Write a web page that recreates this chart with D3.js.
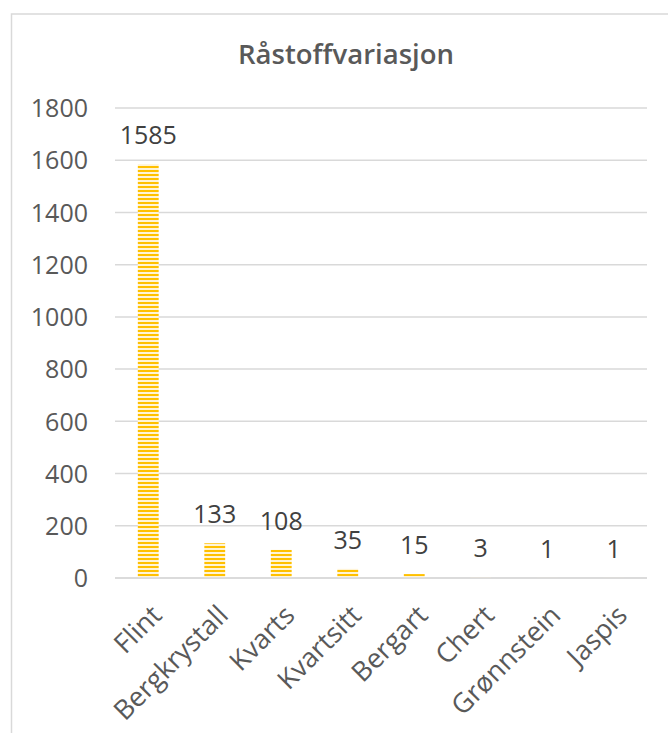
<!DOCTYPE html>
<html>
<head>
<meta charset="utf-8">
<script src="https://cdn.jsdelivr.net/npm/d3@7"></script>
<style>
  html, body { margin: 0; padding: 0; background: #ffffff; }
  svg { display: block; }
</style>
</head>
<body>
<svg id="chart" width="668" height="733"></svg>
<script>
// Råstoffvariasjon – number of finds per raw material
const categories = ["Flint", "Bergkrystall", "Kvarts", "Kvartsitt", "Bergart", "Chert", "Grønnstein", "Jaspis"];
const counts = [1585, 133, 108, 35, 15, 3, 1, 1];
const yTicks = [0, 200, 400, 600, 800, 1000, 1200, 1400, 1600, 1800];
const chartTitle = "Råstoffvariasjon";

const svg = d3.select("#chart");
const font = "'Open Sans', 'Noto Sans', sans-serif";

// chart frame (runs off the right and bottom edges)
svg.append("rect")
  .attr("x", 11.5).attr("y", 14)
  .attr("width", 720).attr("height", 760)
  .attr("fill", "#ffffff")
  .attr("stroke", "#d9d9d9")
  .attr("stroke-width", 1.5);

// striped fill for the bars
const defs = svg.append("defs");
const pat = defs.append("pattern")
  .attr("id", "stripes")
  .attr("patternUnits", "userSpaceOnUse")
  .attr("width", 4).attr("height", 4);
pat.append("rect").attr("width", 4).attr("height", 4).attr("fill", "#fff4d6");
pat.append("rect").attr("y", 2).attr("width", 4).attr("height", 2).attr("fill", "#ffc000");

const plot = { left: 115, right: 647, top: 108, bottom: 578 };

const x = d3.scaleBand()
  .domain(categories)
  .range([plot.left, plot.right])
  .padding(0);

const y = d3.scaleLinear()
  .domain([0, 1800])
  .range([plot.bottom, plot.top]);

const barW = x.bandwidth() / 3.19;

// title
svg.append("text")
  .attr("x", 346).attr("y", 64)
  .attr("text-anchor", "middle")
  .attr("font-family", font)
  .attr("font-size", 27.5)
  .attr("font-weight", 600)
  .attr("fill", "#595959")
  .text(chartTitle);

// gridlines
svg.append("g")
  .selectAll("line")
  .data(yTicks)
  .join("line")
  .attr("x1", plot.left).attr("x2", plot.right)
  .attr("y1", d => y(d)).attr("y2", d => y(d))
  .attr("stroke", "#d9d9d9")
  .attr("stroke-width", 1.5);

// y axis labels
const yAxis = d3.axisLeft(y).tickValues(yTicks).tickFormat(d3.format("d")).tickSize(0).tickPadding(0);
const gy = svg.append("g")
  .attr("transform", `translate(88,0)`)
  .call(yAxis);
gy.select(".domain").remove();
gy.selectAll("text")
  .attr("font-family", font)
  .attr("font-size", 25)
  .attr("fill", "#595959")
  .attr("dy", "0.35em");

// bars
svg.append("g")
  .selectAll("rect")
  .data(counts)
  .join("rect")
  .attr("x", (d, i) => x(categories[i]) + x.bandwidth() / 2 - barW / 2)
  .attr("y", d => y(d))
  .attr("width", barW)
  .attr("height", d => y(0) - y(d))
  .attr("fill", "url(#stripes)");

// axis line at zero
svg.append("line")
  .attr("x1", plot.left).attr("x2", plot.right)
  .attr("y1", y(0)).attr("y2", y(0))
  .attr("stroke", "#d9d9d9")
  .attr("stroke-width", 1.5);

// value labels
svg.append("g")
  .selectAll("text")
  .data(counts)
  .join("text")
  .attr("x", (d, i) => x(categories[i]) + x.bandwidth() / 2)
  .attr("y", d => y(d) - 20)
  .attr("text-anchor", "middle")
  .attr("font-family", font)
  .attr("font-size", 25)
  .attr("fill", "#404040")
  .text(d => d);

// category labels, rotated
const xAxis = d3.axisBottom(x).tickSize(0).tickPadding(0);
const gx = svg.append("g")
  .attr("transform", `translate(0,${plot.bottom})`)
  .call(xAxis);
gx.select(".domain").remove();
gx.selectAll("text")
  .attr("font-family", font)
  .attr("font-size", 27)
  .attr("fill", "#595959")
  .attr("text-anchor", "end")
  .attr("dy", null)
  .attr("y", null)
  .attr("transform", "translate(15,39) rotate(-45)");
</script>
</body>
</html>
